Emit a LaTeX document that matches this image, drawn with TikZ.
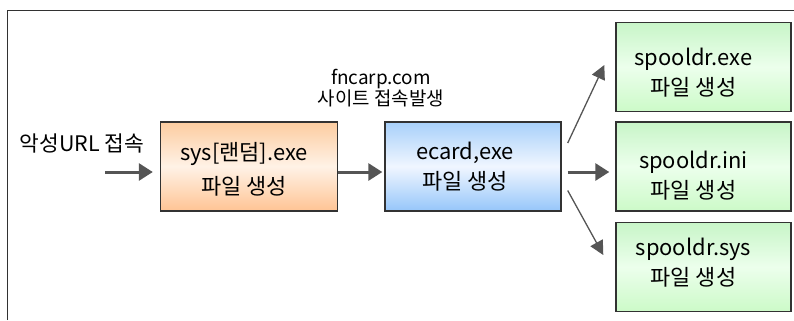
\documentclass[tikz,border=0pt]{standalone}
\usepackage{fontspec}
\setmainfont{Noto Sans CJK KR}
\usetikzlibrary{arrows.meta,calc}

\definecolor{orTop}{RGB}{252,204,160}
\definecolor{orMid}{RGB}{255,242,230}
\definecolor{orBot}{RGB}{255,196,148}
\definecolor{blTop}{RGB}{168,208,250}
\definecolor{blMid}{RGB}{240,246,255}
\definecolor{blBot}{RGB}{150,198,250}
\definecolor{grTop}{RGB}{200,245,200}
\definecolor{grMid}{RGB}{236,255,236}
\definecolor{grBot}{RGB}{204,250,200}
\definecolor{edge}{RGB}{50,50,50}
\definecolor{arrowgray}{RGB}{85,85,85}

\tikzset{
  procbox/.style={draw=edge, line width=1.4bp, inner sep=0pt},
  orangebox/.style={procbox, minimum width=177bp, minimum height=89bp,
    top color=orTop, bottom color=orBot, middle color=orMid},
  bluebox/.style={procbox, minimum width=176bp, minimum height=89bp,
    top color=blTop, bottom color=blBot, middle color=blMid},
  greenbox/.style={procbox, minimum width=175bp, minimum height=89bp,
    top color=grTop, bottom color=grBot, middle color=grMid},
  boxtext/.style={align=center, inner sep=0pt,
    font=\fontsize{22}{30}\selectfont},
  widetext/.style={boxtext, font=\fontsize{22}{34}\selectfont},
  plaintext/.style={align=center, inner sep=0pt,
    font=\fontsize{19}{21}\selectfont},
  thickarrow/.style={draw=arrowgray, line width=3bp,
    -{Triangle[length=14bp,width=17bp]}},
  thinarrow/.style={draw=arrowgray, line width=1.3bp,
    -{Triangle[length=14bp,width=14bp]}},
}

\begin{document}
\begin{tikzpicture}[x=1bp,y=-1bp]
\useasboundingbox (0,0) rectangle (794,320);

% outer frame (top and left edges)
\draw[edge, line width=1bp] (7,320) -- (7,10) -- (794,10);

% process boxes
\node[orangebox] (b1) at (249,166.5) {};
\node[bluebox]   (b2) at (473,166.5) {};
\node[greenbox]  (g1) at (703.5,67)  {};
\node[greenbox]  (g2) at (703.5,166.5) {};
\node[greenbox]  (g3) at (703.5,267) {};

% box captions
\node[widetext] (t1) at ($(b1.center)+(-5,3)$) {sys[랜덤].exe\\파일 생성};
\node[boxtext] (t2) at ($(b2.center)+(-8,0)$) {ecard,exe\\파일 생성};
\node[boxtext] (t3) at ($(g1.center)+(-10,6)$) {spooldr.exe\\파일 생성};
\node[boxtext] (t4) at ($(g2.center)+(-10,9)$) {spooldr.ini\\파일 생성};
\node[boxtext] (t5) at ($(g3.center)+(-10,-4)$) {spooldr.sys\\파일 생성};

% free labels
\node[plaintext, font=\fontsize{21.5}{24}\selectfont] (url) at (82,143) {악성URL 접속};
\node[plaintext] (site) at (381,88) {fncarp.com\\사이트 접속발생};

% connectors
\coordinate (start) at (105,172);
\draw[thickarrow, shorten >=7bp] (start) -- (b1.west |- start);
\draw[thickarrow, shorten >=2bp] ($(b1.east)+(0,5.5)$) -- ($(b2.west)+(0,5.5)$);
\draw[thickarrow, shorten <=6bp, shorten >=6bp] ($(b2.east)+(0,5.5)$) -- ($(g2.west)+(0,5.5)$);
\draw[thinarrow] ($(b2.east)+(6,-23.5)$) -- ($(g1.west)+(-11,-2)$);
\draw[thinarrow] ($(b2.east)+(6,24)$) -- ($(g3.west)+(-12,-12)$);
\end{tikzpicture}
\end{document}
